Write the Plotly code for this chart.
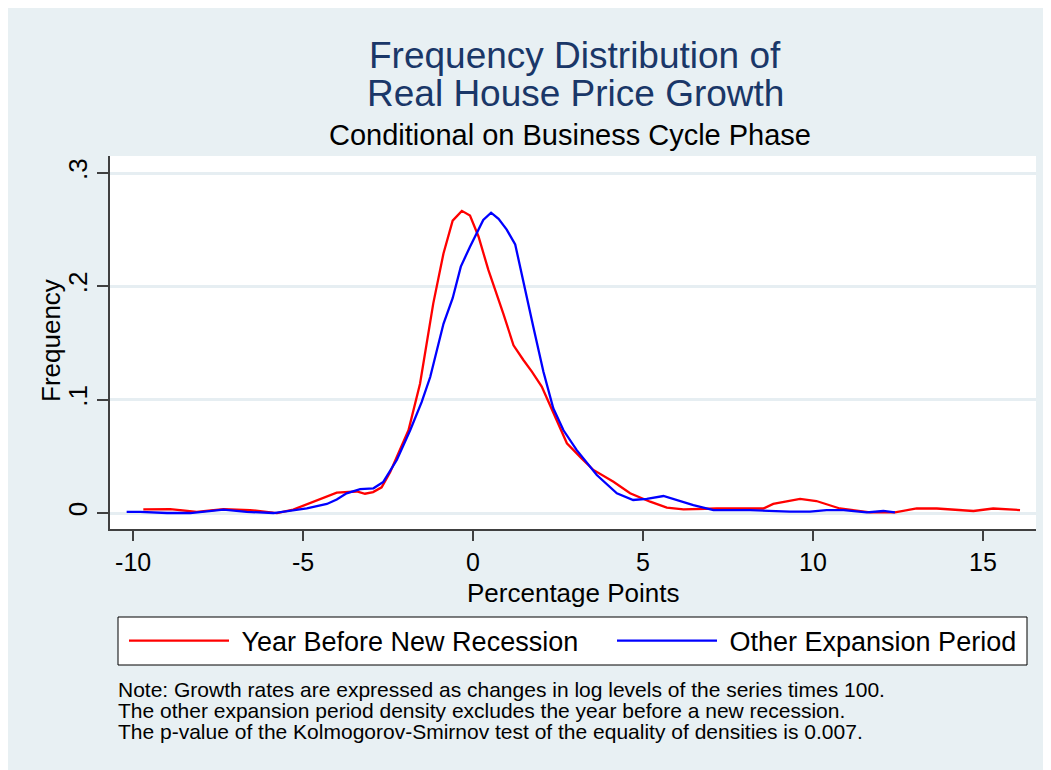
import plotly.graph_objects as go

# ---------------- data ----------------
red_x = [-9.70, -8.91, -8.13, -7.34, -6.56, -5.77, -5.29, -4.70, -4.01, -3.42, -3.18, -2.94,
         -2.69, -2.44, -2.15, -1.90, -1.56, -1.17, -0.87, -0.60, -0.33, -0.09, 0.16, 0.45,
         0.89, 1.19, 1.48, 1.73, 2.02, 2.36, 2.76, 3.20, 3.54, 4.13, 4.62, 5.21, 5.70, 6.19,
         7.17, 8.54, 8.83, 9.62, 10.10, 10.79, 11.68, 12.41, 13.05, 13.64, 14.72, 15.30, 16.09]
red_y = [0.0033, 0.0035, 0.0010, 0.0035, 0.0026, 0.0000, 0.0030, 0.0100, 0.0180, 0.0190, 0.0170, 0.0185,
         0.0227, 0.0360, 0.0560, 0.0730, 0.1140, 0.1850, 0.2290, 0.2580, 0.2666, 0.2625, 0.2440, 0.2145,
         0.1760, 0.1480, 0.1350, 0.1247, 0.1115, 0.0880, 0.0615, 0.0480, 0.0380, 0.0276, 0.0174, 0.0100,
         0.0047, 0.0033, 0.0040, 0.0040, 0.0080, 0.0124, 0.0106, 0.0040, 0.0006, 0.0006, 0.0040, 0.0040,
         0.0018, 0.0040, 0.0026]

blue_x = [-10.19, -9.79, -9.00, -8.32, -7.34, -6.66, -5.87, -4.89, -4.30, -4.01, -3.72, -3.32,
          -2.93, -2.64, -2.24, -1.85, -1.51, -1.26, -0.87, -0.60, -0.36, -0.09, 0.30, 0.53,
          0.75, 0.99, 1.24, 1.48, 1.77, 2.07, 2.36, 2.66, 3.05, 3.64, 4.23, 4.71, 5.11, 5.60,
          6.48, 7.07, 8.15, 9.32, 9.91, 10.40, 10.90, 11.58, 12.07, 12.41]
blue_y = [0.0010, 0.0010, 0.0000, 0.0000, 0.0030, 0.0010, 0.0000, 0.0040, 0.0080, 0.0120, 0.0174, 0.0210,
          0.0218, 0.0274, 0.0470, 0.0730, 0.0980, 0.1200, 0.1670, 0.1895, 0.2174, 0.2350, 0.2586, 0.2650,
          0.2595, 0.2500, 0.2370, 0.2030, 0.1645, 0.1247, 0.0924, 0.0730, 0.0555, 0.0335, 0.0174, 0.0115,
          0.0124, 0.0150, 0.0070, 0.0026, 0.0026, 0.0012, 0.0012, 0.0026, 0.0026, 0.0006, 0.0018, 0.0006]

series_names = ["Year Before New Recession", "Other Expansion Period"]
x_tickvals = [-10, -5, 0, 5, 10, 15]
x_ticktext = ["-10", "-5", "0", "5", "10", "15"]
y_tickvals = [0, 0.1, 0.2, 0.3]
y_ticktext = ["0", ".1", ".2", ".3"]

title_lines = ["Frequency Distribution of", "Real House Price Growth"]
subtitle = "Conditional on Business Cycle Phase"
x_title = "Percentage Points"
y_title = "Frequency"
notes = [
    "Note: Growth rates are expressed as changes in log levels of the series times 100.",
    "The other expansion period density excludes the year before a new recession.",
    "The p-value of the Kolmogorov-Smirnov test of the equality of densities is 0.007.",
]

# ---------------- layout geometry ----------------
W, H = 1043, 762          # page body has an 8px margin -> figure spans 8..1051, 8..770
OFF = 8
ML, MR, MT, MB = 102, 15, 148, 241
PW = W - ML - MR
PH = H - MT - MB


def px(x):   # page x pixel -> paper fraction
    return (x - OFF - ML) / PW


def py(y):   # page y pixel -> paper fraction
    return 1 - (y - OFF - MT) / PH


FONT = "Arial, 'Liberation Sans', sans-serif"
BG = "#e8f0f3"
GRID = "#e6eef2"
AXC = "#404040"
NB = "\u00a0"

fig = go.Figure()
fig.add_trace(go.Scatter(x=red_x, y=red_y, mode="lines", name=NB + series_names[0],
                         line=dict(color="#ff0000", width=2.3), legend="legend"))
fig.add_trace(go.Scatter(x=blue_x, y=blue_y, mode="lines", name=NB + series_names[1],
                         line=dict(color="#0000ff", width=2.3), legend="legend2"))

annotations = []
annotations.append(dict(text=title_lines[0], x=px(575), y=py(55), xref="paper", yref="paper",
                        showarrow=False, xanchor="center", yanchor="middle",
                        font=dict(family=FONT, size=37, color="#1a3768")))
annotations.append(dict(text=title_lines[1], x=px(575), y=py(93), xref="paper", yref="paper",
                        showarrow=False, xanchor="center", yanchor="middle",
                        font=dict(family=FONT, size=37, color="#1a3768")))
annotations.append(dict(text=subtitle, x=px(570), y=py(135), xref="paper", yref="paper",
                        showarrow=False, xanchor="center", yanchor="middle",
                        font=dict(family=FONT, size=29, color="black")))
for t, yy in zip(notes, [689, 710, 731]):
    annotations.append(dict(text=t, x=px(116), y=py(yy), xref="paper", yref="paper",
                            showarrow=False, xanchor="left", yanchor="middle",
                            font=dict(family=FONT, size=21, color="black")))
annotations.append(dict(text=x_title, x=px(573), y=py(593), xref="paper", yref="paper",
                        showarrow=False, xanchor="center", yanchor="middle",
                        font=dict(family=FONT, size=26, color="black")))
annotations.append(dict(text=y_title, x=px(51), y=py(341), xref="paper", yref="paper",
                        showarrow=False, xanchor="center", yanchor="middle", textangle=-90,
                        font=dict(family=FONT, size=26, color="black")))

shapes = [
    dict(type="rect", xref="paper", yref="paper", x0=px(118), x1=px(1027), y0=py(665), y1=py(617),
         fillcolor="white", line=dict(color="black", width=1), layer="below"),
]

legend_common = dict(orientation="h", y=py(641), xanchor="left", yanchor="middle",
                     bgcolor="rgba(0,0,0,0)", borderwidth=0, itemwidth=100,
                     font=dict(family=FONT, size=27, color="black"))

fig.update_layout(
    width=W, height=H,
    margin=dict(l=ML, r=MR, t=MT, b=MB, pad=0),
    paper_bgcolor=BG, plot_bgcolor="white",
    font=dict(family=FONT, size=26, color="black"),
    showlegend=True,
    legend=dict(x=px(124), **legend_common),
    legend2=dict(x=px(612), **legend_common),
    annotations=annotations,
    shapes=shapes,
    xaxis=dict(range=[-10.68, 16.56], tickmode="array", tickvals=x_tickvals, ticktext=x_ticktext,
               showgrid=False, zeroline=False, showline=True, linecolor=AXC, linewidth=1.5,
               ticks="outside", ticklen=10, tickwidth=1.5, tickcolor=AXC,
               tickfont=dict(family=FONT, size=25, color="black")),
    yaxis=dict(range=[-0.0141, 0.315], tickmode="array", tickvals=y_tickvals, ticktext=y_ticktext,
               showgrid=True, gridcolor=GRID, gridwidth=2.5, zeroline=False,
               showline=True, linecolor=AXC, linewidth=1.5,
               ticks="outside", ticklen=11, tickwidth=1.5, tickcolor=AXC, tickangle=-90,
               tickfont=dict(family=FONT, size=26, color="black")),
)

fig.write_html("out.html")
